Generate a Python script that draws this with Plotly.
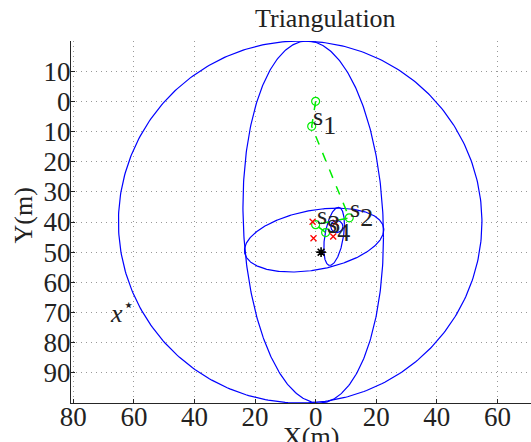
import numpy as np
import plotly.graph_objects as go

# ---- data ----
# uncertainty ellipses: centre and covariance-like shape matrix [[sxx, sxy], [sxy, syy]]
ell_cx = [-5.1, -0.8, -0.5, 6.1, 7.0]
ell_cy = [40.0, 40.0, 46.0, 44.75, 41.5]
ell_sxx = [3600.0, 538.0, 529.0, 11.6, 4.0]
ell_syy = [3600.0, 3600.0, 112.0, 93.0, 4.0]
ell_sxy = [0.0, 120.0, -79.5, -13.5, 0.0]

# estimated path (green) : start point then sensors s1..s4
path_x = [0.0, -1.3, 11.1, 0.0, 3.3]
path_y = [0.0, 8.3, 38.6, 40.9, 43.5]
sensor_names = ["1", "2", "3", "4"]

# red crosses
red_x = [-1.0, -0.7, 5.8, 6.6]
red_y = [39.9, 45.4, 44.8, 40.2]

# true position (black star)
true_x = [1.8]
true_y = [50.0]

x_tickvals = [-80, -60, -40, -20, 0, 20, 40, 60]
x_ticktext = ["80", "60", "40", "20", "0", "20", "40", "60"]
y_tickvals = [-10, 0, 10, 20, 30, 40, 50, 60, 70, 80, 90]
y_ticktext = ["10", "0", "10", "20", "30", "40", "50", "60", "70", "80", "90"]

FONT = "Liberation Serif"
FS = 26
TXT = "#222222"
GREEN = "#00ee00"

fig = go.Figure()

t = np.linspace(0, 2 * np.pi, 400)
for cx, cy, a, d, b in zip(ell_cx, ell_cy, ell_sxx, ell_syy, ell_sxy):
    l11 = np.sqrt(a)
    l21 = b / l11
    l22 = np.sqrt(d - l21 ** 2)
    ex = cx + l11 * np.cos(t)
    ey = cy + l21 * np.cos(t) + l22 * np.sin(t)
    fig.add_trace(go.Scatter(x=ex, y=ey, mode="lines",
                             line=dict(color="#0000ff", width=1.2),
                             hoverinfo="skip", showlegend=False))

fig.add_trace(go.Scatter(x=path_x, y=path_y, mode="lines+markers",
                         line=dict(color=GREEN, width=1.5, dash="dash"),
                         marker=dict(symbol="circle-open", size=8, color=GREEN,
                                     line=dict(color=GREEN, width=1.2)),
                         showlegend=False))
fig.add_trace(go.Scatter(x=red_x, y=red_y, mode="markers",
                         marker=dict(symbol="x-thin-open", size=6, color="#ff0000",
                                     line=dict(color="#ff0000", width=1.3)),
                         showlegend=False))
fig.add_trace(go.Scatter(x=true_x, y=true_y, mode="markers",
                         marker=dict(symbol="asterisk-open", size=8, color="#000000",
                                     line=dict(color="#000000", width=1.6)),
                         showlegend=False))

annotations = []
for name, sx, sy in zip(sensor_names, path_x[1:], path_y[1:]):
    annotations.append(dict(
        x=sx, y=sy, xref="x", yref="y",
        text="s<sub><sub><span style='font-size:%dpx'>%s</span></sub></sub>" % (FS, name),
        showarrow=False, xanchor="left", yanchor="top",
        xshift=-1, yshift=26, font=dict(family=FONT, size=FS, color=TXT)))

annotations.append(dict(x=-68.6, y=75.7, xref="x", yref="y",
                        text="<i>x</i><sup>⋆</sup>", showarrow=False,
                        xanchor="left", yanchor="bottom",
                        font=dict(family=FONT, size=FS, color=TXT)))
annotations.append(dict(x=0.5533, y=1.016, xref="paper", yref="paper",
                        text="Triangulation", showarrow=False,
                        xanchor="center", yanchor="bottom",
                        font=dict(family=FONT, size=FS, color=TXT)))
annotations.append(dict(x=0.5213, y=-0.046, xref="paper", yref="paper",
                        text="X(m)", showarrow=False,
                        xanchor="center", yanchor="top",
                        font=dict(family=FONT, size=FS, color=TXT)))
annotations.append(dict(x=-0.1037, y=0.519, xref="paper", yref="paper",
                        text="Y(m)", showarrow=False, textangle=-90,
                        xanchor="center", yanchor="middle",
                        font=dict(family=FONT, size=FS, color=TXT)))

axis_common = dict(showgrid=True, gridcolor="#999999", griddash="1px,4px", gridwidth=1,
                   zeroline=False, showline=True, linecolor="#262626", linewidth=1.2,
                   ticks="inside", ticklen=4, tickcolor="#262626",
                   tickfont=dict(family=FONT, size=27, color=TXT))

fig.update_layout(
    width=531, height=442,
    margin=dict(l=71, r=0, t=41, b=39),
    paper_bgcolor="white", plot_bgcolor="white",
    xaxis=dict(range=[-80.76, 71.1], tickvals=x_tickvals, ticktext=x_ticktext,
               ticklabelstandoff=-11, **axis_common),
    yaxis=dict(range=[100, -20], tickvals=y_tickvals, ticktext=y_ticktext,
               ticklabelstandoff=-6, **axis_common),
    annotations=annotations,
    showlegend=False,
)

fig.write_html("out.html", config={"displayModeBar": False},
               post_script="document.body.style.margin='0px';")
